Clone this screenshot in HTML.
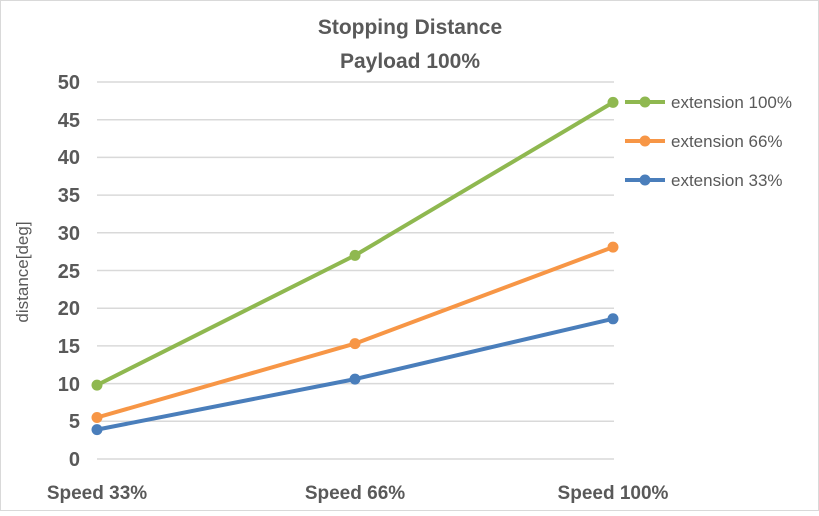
<!DOCTYPE html>
<html><head><style>
body{margin:0;background:#fff}
svg text{font-family:"Liberation Sans",sans-serif;fill:#595959}
</style></head><body>
<svg width="819" height="511" viewBox="0 0 819 511">
<rect x="0.5" y="0.5" width="818" height="510" fill="#fff" stroke="#d9d9d9"/>
<text x="410" y="34" text-anchor="middle" font-size="21" font-weight="bold">Stopping Distance</text>
<text x="410" y="68" text-anchor="middle" font-size="21" font-weight="bold">Payload 100%</text>
<g stroke="#d9d9d9" stroke-width="1.5">
<line x1="97" x2="614" y1="82" y2="82"/><line x1="97" x2="614" y1="119.7" y2="119.7"/>
<line x1="97" x2="614" y1="157.4" y2="157.4"/><line x1="97" x2="614" y1="195.1" y2="195.1"/>
<line x1="97" x2="614" y1="232.8" y2="232.8"/><line x1="97" x2="614" y1="270.5" y2="270.5"/>
<line x1="97" x2="614" y1="308.2" y2="308.2"/><line x1="97" x2="614" y1="345.9" y2="345.9"/>
<line x1="97" x2="614" y1="383.6" y2="383.6"/><line x1="97" x2="614" y1="421.3" y2="421.3"/>
<line x1="97" x2="614" y1="459" y2="459"/>
</g>
<g font-size="20" font-weight="bold" text-anchor="end">
<text x="80" y="89">50</text><text x="80" y="127">45</text><text x="80" y="164">40</text>
<text x="80" y="202">35</text><text x="80" y="240">30</text><text x="80" y="278">25</text>
<text x="80" y="315">20</text><text x="80" y="353">15</text><text x="80" y="391">10</text>
<text x="80" y="428">5</text><text x="80" y="466">0</text>
</g>
<text transform="translate(28,272) rotate(-90)" font-size="17" text-anchor="middle">distance[deg]</text>
<g font-size="19" font-weight="bold" text-anchor="middle">
<text x="97" y="499">Speed 33%</text><text x="355" y="499">Speed 66%</text><text x="613" y="499">Speed 100%</text>
</g>
<g stroke-width="4" fill="none" stroke-linejoin="round">
<polyline points="97,385.1 355,255.4 613,102.4" stroke="#8fb850"/>
<polyline points="97,417.5 355,343.6 613,247.1" stroke="#f79646"/>
<polyline points="97,429.6 355,379.1 613,318.8" stroke="#4a7ebb"/>
</g>
<g fill="#8fb850"><circle cx="97" cy="385.1" r="5.5"/><circle cx="355" cy="255.4" r="5.5"/><circle cx="613" cy="102.4" r="5.5"/></g>
<g fill="#f79646"><circle cx="97" cy="417.5" r="5.5"/><circle cx="355" cy="343.6" r="5.5"/><circle cx="613" cy="247.1" r="5.5"/></g>
<g fill="#4a7ebb"><circle cx="97" cy="429.6" r="5.5"/><circle cx="355" cy="379.1" r="5.5"/><circle cx="613" cy="318.8" r="5.5"/></g>
<g stroke-width="4">
<line x1="625" x2="665" y1="102" y2="102" stroke="#8fb850"/><circle cx="645" cy="102" r="5.5" fill="#8fb850"/>
<line x1="625" x2="665" y1="141" y2="141" stroke="#f79646"/><circle cx="645" cy="141" r="5.5" fill="#f79646"/>
<line x1="625" x2="665" y1="180" y2="180" stroke="#4a7ebb"/><circle cx="645" cy="180" r="5.5" fill="#4a7ebb"/>
</g>
<g font-size="17">
<text x="671" y="108">extension 100%</text><text x="671" y="147">extension 66%</text><text x="671" y="186">extension 33%</text>
</g>
</svg>
</body></html>
